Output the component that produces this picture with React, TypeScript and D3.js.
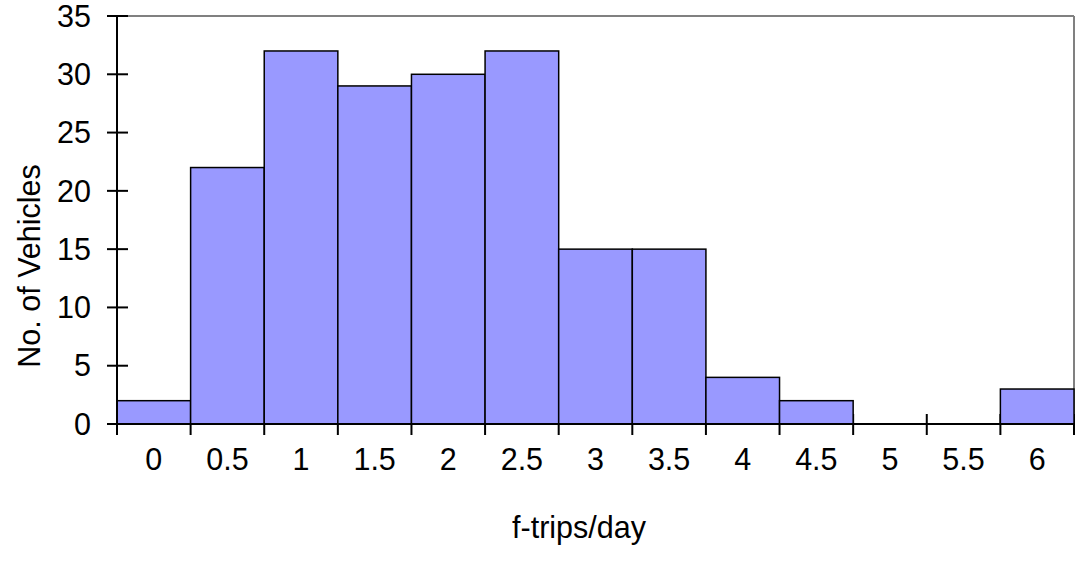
import React from "react";
import * as d3 from "d3";

const categories = ["0", "0.5", "1", "1.5", "2", "2.5", "3", "3.5", "4", "4.5", "5", "5.5", "6"];
const counts = [2, 22, 32, 29, 30, 32, 15, 15, 4, 2, 0, 0, 3];
const yTicks = [0, 5, 10, 15, 20, 25, 30, 35];
const xTitle = "f-trips/day";
const yTitle = "No. of Vehicles";

const W = 1075;
const H = 563;
const M = { left: 117, right: 1074, top: 16, bottom: 424 };
const FONT = "Arial, 'Liberation Sans', sans-serif";
const FS = 30.5;

export default function App() {
  const x = d3.scaleBand<string>().domain(categories).range([M.left, M.right]).paddingInner(0).paddingOuter(0);
  const y = d3.scaleLinear().domain([0, 35]).range([M.bottom, M.top]);
  const bw = x.bandwidth();
  const boundaries = d3.range(categories.length + 1).map((i) => M.left + i * bw);

  return (
    <svg width={W} height={H} style={{ position: "absolute", left: 0, top: 0, background: "#fff" }}>
      <rect x={0} y={0} width={W} height={H} fill="#fff" />
      <line x1={M.left} x2={M.right} y1={M.top} y2={M.top} stroke="#808080" strokeWidth={2} />
      <line x1={M.right} x2={M.right} y1={M.top} y2={M.bottom} stroke="#808080" strokeWidth={2} />
      {boundaries.map((bx, i) => (
        <line key={"xt" + i} x1={bx} x2={bx} y1={M.bottom - 10} y2={M.bottom + 11} stroke="#000" strokeWidth={2} />
      ))}
      {counts.map((v, i) =>
        v > 0 ? (
          <rect
            key={"b" + i}
            x={x(categories[i])!}
            y={y(v)}
            width={bw}
            height={y(0) - y(v)}
            fill="#9999FF"
            stroke="#000"
            strokeWidth={1.5}
          />
        ) : null
      )}
      <line x1={M.left} x2={M.right} y1={M.bottom} y2={M.bottom} stroke="#000" strokeWidth={2} />
      <line x1={M.left} x2={M.left} y1={M.top} y2={M.bottom + 11} stroke="#000" strokeWidth={2} />
      {yTicks.map((t) => (
        <g key={"yt" + t}>
          <line x1={M.left - 10} x2={M.left + 11} y1={y(t)} y2={y(t)} stroke="#000" strokeWidth={2} />
          <text x={M.left - 26} y={y(t)} dy="0.35em" textAnchor="end" fontFamily={FONT} fontSize={FS} fill="#000">
            {t}
          </text>
        </g>
      ))}
      {categories.map((c) => (
        <text
          key={"xl" + c}
          x={x(c)! + bw / 2}
          y={459}
          dy="0.35em"
          textAnchor="middle"
          fontFamily={FONT}
          fontSize={FS}
          fill="#000"
        >
          {c}
        </text>
      ))}
      <text x={579} y={527} dy="0.35em" textAnchor="middle" fontFamily={FONT} fontSize={FS} fill="#000">
        {xTitle}
      </text>
      <text
        transform={`translate(29,266) rotate(-90)`}
        textAnchor="middle"
        dy="0.35em"
        fontFamily={FONT}
        fontSize={FS}
        fill="#000"
      >
        {yTitle}
      </text>
    </svg>
  );
}
